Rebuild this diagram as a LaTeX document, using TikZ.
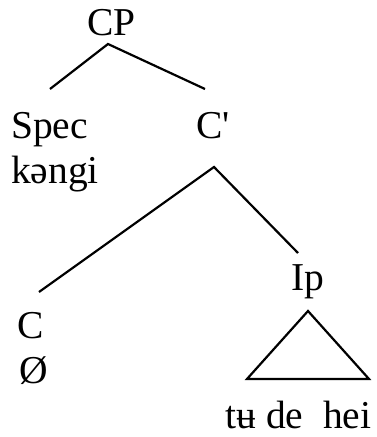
\documentclass[tikz,border=0pt]{standalone}
\usepackage{fontspec}
\setmainfont{Liberation Serif}[Ligatures=TeXOff]
\begin{document}
\begin{tikzpicture}[x=1pt,y=-1pt,
  lbl/.style={inner sep=0pt,font=\fontsize{39.5}{41}\selectfont},
  branch/.style={line width=2.2pt}]
\useasboundingbox (0,0) rectangle (377,437);
% labels
\node[lbl,anchor=base] (cp) at (111.5,35) {CP};
\node[lbl,anchor=base west] (spec) at (11,138) {Spec};
\node[lbl,anchor=base west] (kengi) at (11,183) {kəngi};
\node[lbl,anchor=base] (cbar) at (213,138) {C'};
\node[lbl,anchor=base] (c) at (31,338) {C};
\node[lbl,anchor=base west] (null) at (19,383) {Ø};
\node[lbl,anchor=base] (ip) at (307.5,290) {Ip};
\node[lbl,anchor=base] (words) at (298.5,428) {tʉ de\ \ hei};
% attachment points
\coordinate (cpB) at (108,44);
\coordinate (specT) at (50,89);
\coordinate (cbarT) at (205,89);
\coordinate (cbarB) at (214,167);
\coordinate (cT) at (39,292);
\coordinate (ipT) at (298,253);
\coordinate (triA) at (308,311);
\coordinate (triL) at (247,379);
\coordinate (triR) at (369,379);
% branches
\draw[branch] (specT) -- (cpB) -- (cbarT);
\draw[branch] (cT) -- (cbarB) -- (ipT);
\draw[branch,line join=miter] (triA) -- (triL) -- (triR) -- cycle;
\end{tikzpicture}
\end{document}
